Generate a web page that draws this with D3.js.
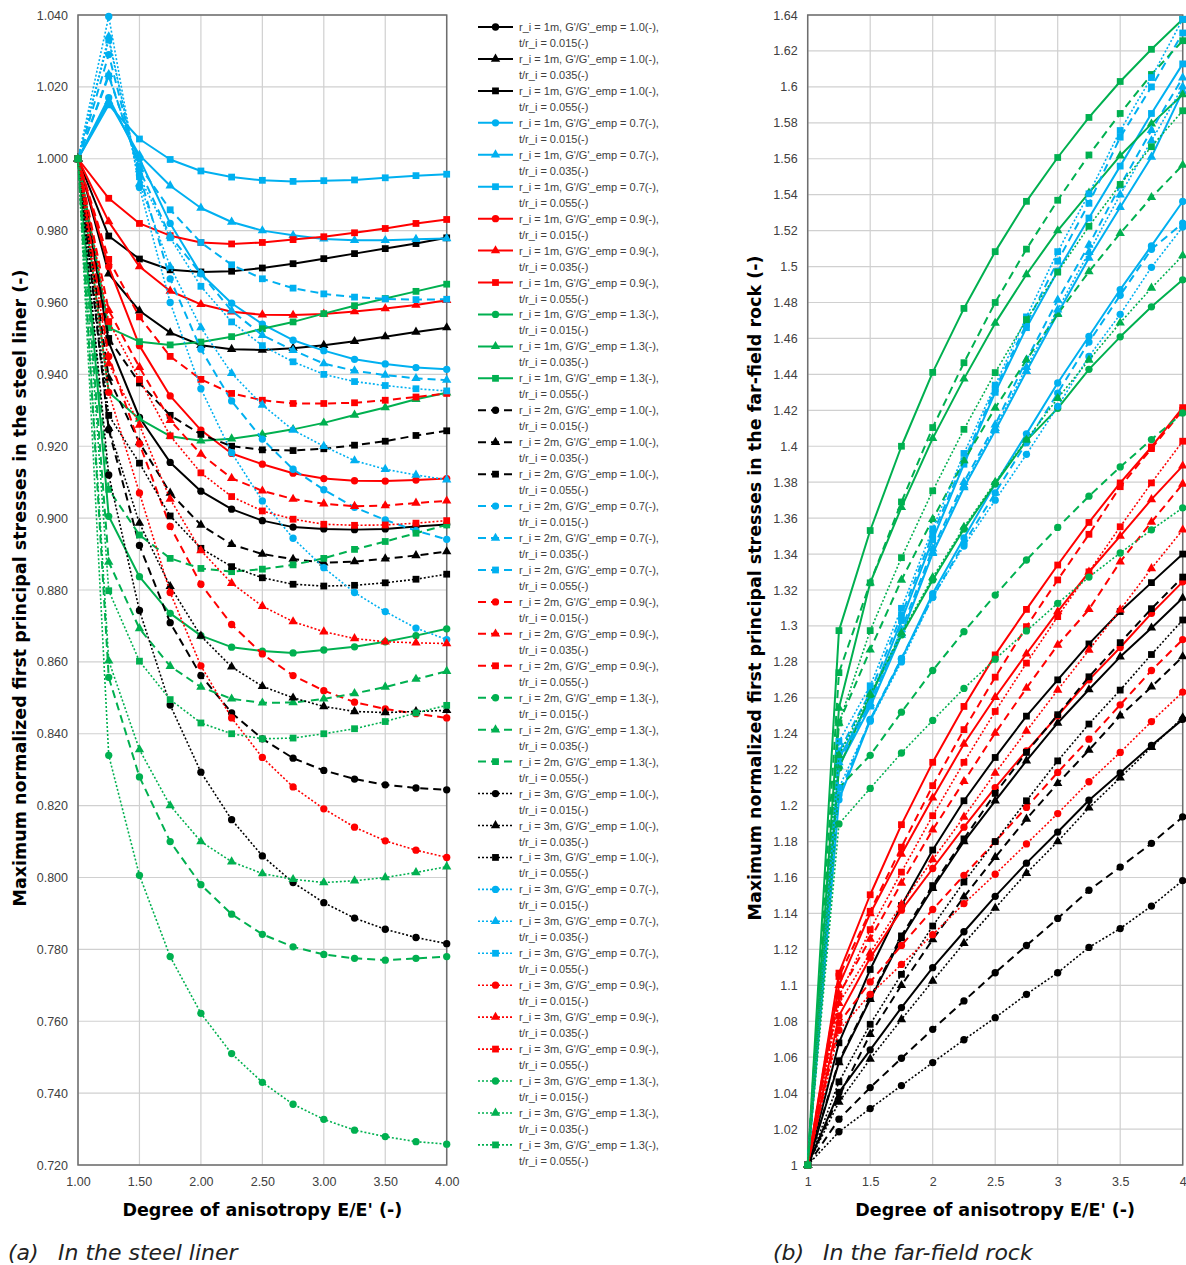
<!DOCTYPE html>
<html>
<head>
<meta charset="utf-8">
<script src="https://cdn.jsdelivr.net/npm/d3@7"></script>
<style>
body{margin:0;background:#fff;}
svg{display:block;}
</style>
</head>
<body>
<div id="chart"></div>
<script>
// degree of anisotropy E/E'
var xVals=[1,1.25,1.5,1.75,2,2.25,2.5,2.75,3,3.25,3.5,3.75,4];

// (a) steel liner
var L_1m_G10_t015=[1.000,0.949,0.928,0.9155,0.9075,0.9025,0.8993,0.8975,0.897,0.8968,0.897,0.8977,0.8982];
var L_1m_G10_t035=[1.000,0.968,0.9577,0.9516,0.9481,0.947,0.9468,0.9473,0.9481,0.9492,0.9505,0.9518,0.953];
var L_1m_G10_t055=[1.000,0.9785,0.9721,0.9691,0.9685,0.9687,0.9696,0.9708,0.9722,0.9736,0.975,0.9764,0.978];
var L_1m_G07_t015=[1.000,1.017,1.000,0.982,0.968,0.9598,0.954,0.9495,0.9466,0.9442,0.9429,0.9419,0.9414];
var L_1m_G07_t035=[1.000,1.016,1.001,0.9925,0.9863,0.9824,0.980,0.9787,0.9777,0.9773,0.9773,0.9776,0.9778];
var L_1m_G07_t055=[1.000,1.015,1.0055,0.9998,0.9966,0.9949,0.994,0.9937,0.9939,0.9941,0.9947,0.9953,0.9957];
var L_1m_G09_t015=[1.000,0.970,0.948,0.934,0.9245,0.918,0.915,0.9125,0.911,0.9104,0.9103,0.9106,0.911];
var L_1m_G09_t035=[1.000,0.9825,0.970,0.9632,0.9595,0.9574,0.9566,0.9565,0.9568,0.9575,0.9583,0.9593,0.9606];
var L_1m_G09_t055=[1.000,0.989,0.982,0.9786,0.9767,0.9763,0.9767,0.9775,0.9783,0.9794,0.9806,0.982,0.9831];
var L_1m_G13_t015=[1.000,0.9005,0.8837,0.8735,0.8673,0.8641,0.863,0.8625,0.8633,0.8642,0.8656,0.8673,0.8692];
var L_1m_G13_t035=[1.000,0.935,0.9276,0.9228,0.9215,0.9221,0.9233,0.9247,0.9265,0.9287,0.9308,0.9331,0.9349];
var L_1m_G13_t055=[1.000,0.953,0.9491,0.9482,0.949,0.9505,0.9527,0.9546,0.9569,0.9591,0.9611,0.9631,0.9651];
var L_2m_G10_t015=[1.000,0.9246,0.8924,0.8709,0.8562,0.8458,0.8386,0.8332,0.8298,0.8274,0.8258,0.8249,0.8244];
var L_2m_G10_t035=[1.000,0.939,0.921,0.907,0.8981,0.8927,0.890,0.8886,0.8876,0.8879,0.8887,0.8896,0.8907];
var L_2m_G10_t055=[1.000,0.950,0.9376,0.9286,0.9233,0.920,0.919,0.9188,0.9193,0.9203,0.9214,0.923,0.9243];
var L_2m_G07_t015=[1.000,1.029,0.9955,0.9666,0.947,0.9326,0.922,0.9136,0.9079,0.903,0.8995,0.8965,0.8941];
var L_2m_G07_t035=[1.000,1.0235,0.997,0.9785,0.968,0.9577,0.9509,0.9467,0.943,0.941,0.9398,0.9389,0.9384];
var L_2m_G07_t055=[1.000,1.023,0.998,0.9858,0.9767,0.9705,0.9666,0.964,0.9624,0.9615,0.961,0.9608,0.9609];
var L_2m_G09_t015=[1.000,0.945,0.9207,0.8977,0.8816,0.8704,0.8622,0.8562,0.852,0.8488,0.8469,0.8456,0.8444];
var L_2m_G09_t035=[1.000,0.9578,0.942,0.9272,0.9178,0.9111,0.9076,0.9053,0.904,0.9033,0.9035,0.9042,0.9048];
var L_2m_G09_t055=[1.000,0.972,0.956,0.945,0.9386,0.9347,0.9328,0.9319,0.9319,0.9321,0.9328,0.9337,0.9347];
var L_2m_G13_t015=[1.000,0.8557,0.828,0.810,0.798,0.7898,0.7842,0.7807,0.7786,0.7775,0.777,0.7775,0.778];
var L_2m_G13_t035=[1.000,0.8878,0.8693,0.8588,0.853,0.8497,0.8486,0.8487,0.8497,0.8512,0.853,0.8552,0.8574];
var L_2m_G13_t055=[1.000,0.908,0.8953,0.8888,0.886,0.8851,0.8858,0.887,0.8888,0.8913,0.8935,0.8958,0.8981];
var L_3m_G10_t015=[1.000,0.912,0.8743,0.848,0.8293,0.8161,0.806,0.7986,0.793,0.7887,0.7856,0.7833,0.7816];
var L_3m_G10_t035=[1.000,0.925,0.8986,0.881,0.8672,0.8586,0.8532,0.850,0.8476,0.8462,0.8459,0.8462,0.8465];
var L_3m_G10_t055=[1.000,0.9286,0.9153,0.9006,0.8916,0.8865,0.8834,0.8816,0.8811,0.8813,0.882,0.883,0.8844];
var L_3m_G07_t015=[1.000,1.0396,0.992,0.960,0.936,0.9182,0.9048,0.8944,0.8862,0.8793,0.874,0.8694,0.8662];
var L_3m_G07_t035=[1.000,1.034,0.993,0.970,0.953,0.9403,0.9315,0.9245,0.920,0.916,0.9136,0.912,0.9107];
var L_3m_G07_t055=[1.000,1.033,0.995,0.978,0.9645,0.9546,0.948,0.9435,0.940,0.938,0.9369,0.936,0.9354];
var L_3m_G09_t015=[1.000,0.935,0.907,0.8793,0.8589,0.8444,0.8334,0.8252,0.8191,0.814,0.8102,0.8076,0.8056];
var L_3m_G09_t035=[1.000,0.943,0.9259,0.9053,0.891,0.8819,0.8755,0.8712,0.8684,0.8665,0.8656,0.8653,0.8651];
var L_3m_G09_t055=[1.000,0.9547,0.9386,0.9229,0.9126,0.906,0.902,0.8997,0.8983,0.898,0.8981,0.8986,0.8993];
var L_3m_G13_t015=[1.000,0.834,0.8006,0.778,0.7622,0.751,0.743,0.7369,0.7327,0.7297,0.7279,0.7265,0.7258];
var L_3m_G13_t035=[1.000,0.8603,0.8356,0.820,0.810,0.8044,0.8011,0.7995,0.7986,0.7991,0.800,0.8014,0.803];
var L_3m_G13_t055=[1.000,0.8798,0.8602,0.8495,0.843,0.840,0.8386,0.8388,0.840,0.8414,0.8434,0.8458,0.8479];

// (b) far-field rock
var R_1m_G10_t015=[1,1.0404,1.0641,1.0876,1.1098,1.1298,1.1495,1.168,1.1853,1.203,1.2182,1.2335,1.248];
var R_1m_G10_t035=[1,1.057,1.0922,1.126,1.154,1.18,1.2027,1.225,1.246,1.2646,1.2828,1.2989,1.3155];
var R_1m_G10_t055=[1,1.068,1.1088,1.1444,1.1753,1.2027,1.2268,1.2498,1.27,1.29,1.308,1.3241,1.34];
var R_1m_G07_t015=[1,1.2033,1.2475,1.2815,1.318,1.349,1.379,1.4069,1.4352,1.4612,1.4872,1.5115,1.5362];
var R_1m_G07_t035=[1,1.222,1.255,1.295,1.3404,1.377,1.4087,1.4417,1.4739,1.5048,1.533,1.561,1.5976];
var R_1m_G07_t055=[1,1.226,1.259,1.303,1.348,1.39,1.43,1.466,1.4975,1.527,1.5559,1.5852,1.6128];
var R_1m_G09_t015=[1,1.083,1.1153,1.1418,1.165,1.188,1.21,1.2305,1.25,1.27,1.288,1.307,1.3245];
var R_1m_G09_t035=[1,1.10,1.14,1.173,1.2043,1.2343,1.2603,1.2845,1.308,1.33,1.35,1.3704,1.3891];
var R_1m_G09_t055=[1,1.1068,1.1504,1.1894,1.2241,1.2552,1.2839,1.3092,1.3339,1.3576,1.3796,1.3996,1.4215];
var R_1m_G13_t015=[1,1.221,1.2611,1.295,1.3256,1.3539,1.3791,1.4031,1.4211,1.4428,1.4609,1.4776,1.4926];
var R_1m_G13_t035=[1,1.2543,1.324,1.366,1.4044,1.4375,1.4685,1.4956,1.52,1.541,1.5617,1.5794,1.5957];
var R_1m_G13_t055=[1,1.2974,1.3531,1.400,1.4411,1.4767,1.5083,1.5363,1.5607,1.583,1.603,1.6209,1.6376];
var R_2m_G10_t015=[1,1.0255,1.0431,1.0594,1.0755,1.0913,1.107,1.1222,1.1372,1.1529,1.1658,1.179,1.1937];
var R_2m_G10_t035=[1,1.038,1.0728,1.10,1.1255,1.1492,1.1713,1.1926,1.2124,1.2309,1.25,1.2661,1.2829];
var R_2m_G10_t055=[1,1.058,1.093,1.1275,1.1555,1.1815,1.2068,1.2296,1.2506,1.2717,1.2907,1.3096,1.3272];
var R_2m_G07_t015=[1,1.206,1.248,1.282,1.316,1.346,1.374,1.402,1.4296,1.458,1.484,1.5096,1.5241];
var R_2m_G07_t035=[1,1.224,1.257,1.298,1.343,1.38,1.412,1.448,1.4814,1.512,1.545,1.5759,1.6051];
var R_2m_G07_t055=[1,1.23,1.263,1.306,1.351,1.392,1.432,1.468,1.503,1.5352,1.572,1.60,1.63];
var R_2m_G09_t015=[1,1.079,1.1019,1.1222,1.1422,1.1612,1.18,1.199,1.2185,1.237,1.2561,1.2752,1.2924];
var R_2m_G09_t035=[1,1.095,1.1258,1.1569,1.1866,1.2135,1.2404,1.2654,1.2894,1.3092,1.3357,1.3578,1.379];
var R_2m_G09_t055=[1,1.1049,1.1412,1.1769,1.2111,1.2423,1.2715,1.2996,1.3256,1.351,1.3775,1.3987,1.42];
var R_2m_G13_t015=[1,1.21,1.228,1.252,1.2752,1.2968,1.3172,1.3367,1.3548,1.3722,1.3885,1.4037,1.4185];
var R_2m_G13_t035=[1,1.246,1.2867,1.3256,1.3594,1.392,1.4213,1.448,1.4735,1.4972,1.5185,1.5385,1.5565];
var R_2m_G13_t055=[1,1.274,1.324,1.369,1.4104,1.4465,1.48,1.5097,1.5369,1.5621,1.5852,1.6069,1.6257];
var R_3m_G10_t015=[1,1.0185,1.0314,1.0442,1.057,1.0697,1.082,1.095,1.107,1.1211,1.1316,1.1441,1.1583];
var R_3m_G10_t035=[1,1.035,1.059,1.081,1.1024,1.1234,1.143,1.1624,1.18,1.1988,1.2155,1.2325,1.249];
var R_3m_G10_t055=[1,1.0463,1.0783,1.1061,1.133,1.1575,1.18,1.2027,1.2249,1.2454,1.2643,1.2841,1.3033];
var R_3m_G07_t015=[1,1.21,1.247,1.28,1.316,1.3445,1.370,1.3955,1.4222,1.45,1.4734,1.4996,1.522];
var R_3m_G07_t035=[1,1.23,1.256,1.296,1.341,1.378,1.41,1.444,1.476,1.508,1.540,1.570,1.600];
var R_3m_G07_t055=[1,1.2357,1.2667,1.3098,1.354,1.396,1.434,1.472,1.5083,1.5405,1.5757,1.6052,1.6376];
var R_3m_G09_t015=[1,1.075,1.095,1.1116,1.1282,1.1455,1.1618,1.1787,1.1956,1.2133,1.2296,1.2468,1.2632];
var R_3m_G09_t035=[1,1.09,1.118,1.145,1.17,1.1937,1.2181,1.2415,1.2643,1.2866,1.309,1.332,1.3535];
var R_3m_G09_t055=[1,1.0939,1.131,1.163,1.1944,1.2241,1.2524,1.2793,1.3052,1.3301,1.3552,1.3796,1.4028];
var R_3m_G13_t015=[1,1.1898,1.2096,1.2293,1.2474,1.2652,1.2815,1.2972,1.3126,1.3272,1.3406,1.3535,1.3657];
var R_3m_G13_t035=[1,1.228,1.262,1.296,1.327,1.355,1.380,1.4035,1.4267,1.448,1.4687,1.4881,1.5061];
var R_3m_G13_t055=[1,1.246,1.2974,1.338,1.3752,1.4094,1.441,1.4705,1.4969,1.5224,1.5457,1.5667,1.5867];

// series keys / legend order
var radii=["1m","2m","3m"];
var gRatios=["1.0","0.7","0.9","1.3"];
var tRatios=["0.015","0.035","0.055"];
var linerTicks=[0.72,0.74,0.76,0.78,0.80,0.82,0.84,0.86,0.88,0.90,0.92,0.94,0.96,0.98,1.00,1.02,1.04];
var rockTicks=d3.range(0,33).map(function(i){return +(1+i*0.02).toFixed(2);});
var xTicks=[1,1.5,2,2.5,3,3.5,4];

var colors={"1.0":"#000000","0.7":"#00b0f0","0.9":"#ff0000","1.3":"#00b050"};
var shapes={"0.015":d3.symbolCircle,"0.035":d3.symbolTriangle,"0.055":d3.symbolSquare};
var symSize={"0.015":42,"0.035":38,"0.055":46};
var dashes={"1m":null,"2m":"8,5","3m":"2,2"};
var widths={"1m":2,"2m":2,"3m":1.6};

var linerSet={},rockSet={};
var gCode={"1.0":"G10","0.7":"G07","0.9":"G09","1.3":"G13"};
var tCode={"0.015":"t015","0.035":"t035","0.055":"t055"};
var series=[];
radii.forEach(function(r){gRatios.forEach(function(g){tRatios.forEach(function(t){
    var k=r+"_"+gCode[g]+"_"+tCode[t];
    linerSet[k]=window["L_"+k];
    rockSet[k]=window["R_"+k];
    series.push({r:r,g:g,t:t,key:k});
});});});

var W=1186,H=1265;
var svg=d3.select("#chart").append("svg").attr("width",W).attr("height",H);
var plotTop=15,plotBottom=1165;

function drawPanel(cfg){
    var x=d3.scaleLinear().domain([1,4]).range([cfg.left,cfg.right]);
    var y=d3.scaleLinear().domain([cfg.ymin,cfg.ymax]).range([plotBottom,plotTop]);
    var g=svg.append("g");
    //网格线
    g.append("g").selectAll("line").data(cfg.yTicks).enter().append("line")
        .attr("x1",cfg.left).attr("x2",cfg.right)
        .attr("y1",function(d){return y(d);}).attr("y2",function(d){return y(d);})
        .attr("stroke","#d0d0d0").attr("stroke-width",1.2);
    g.append("g").selectAll("line").data(xTicks).enter().append("line")
        .attr("y1",plotTop).attr("y2",plotBottom)
        .attr("x1",function(d){return x(d);}).attr("x2",function(d){return x(d);})
        .attr("stroke","#d0d0d0").attr("stroke-width",1.2);
    //边框
    g.append("rect").attr("x",cfg.left).attr("y",plotTop)
        .attr("width",cfg.right-cfg.left).attr("height",plotBottom-plotTop)
        .attr("fill","none").attr("stroke","#6e6e6e").attr("stroke-width",1.5);
    //坐标轴
    var gy=g.append("g").attr("transform","translate("+cfg.left+",0)");
    d3.axisLeft(y).tickValues(cfg.yTicks).tickSize(0).tickPadding(10).tickFormat(cfg.yFmt)(gy);
    var gx=g.append("g").attr("transform","translate(0,"+plotBottom+")");
    d3.axisBottom(x).tickValues(xTicks).tickSize(0).tickPadding(12).tickFormat(cfg.xFmt)(gx);
    g.selectAll(".domain").remove();
    g.selectAll(".tick text").attr("fill","#404040")
        .style("font-family","'Liberation Sans',Arial,sans-serif").style("font-size","12.5px");

    //折线
    var line=d3.line()
        .x(function(d){return x(d[0]);})
        .y(function(d){return y(d[1]);});
    series.forEach(function(s){
        var pts=d3.zip(xVals,cfg.data[s.key]);
        var sg=g.append("g");
        sg.append("path").attr("d",line(pts))
            .attr("fill","none").attr("stroke",colors[s.g])
            .attr("stroke-width",widths[s.r])
            .attr("stroke-linejoin","round")
            .attr("stroke-dasharray",dashes[s.r]);
        sg.selectAll("path.mk").data(pts).enter().append("path")
            .attr("class","mk")
            .attr("d",d3.symbol().type(shapes[s.t]).size(symSize[s.t]))
            .attr("transform",function(d){return "translate("+x(d[0])+","+y(d[1])+")";})
            .attr("fill",colors[s.g]);
    });

    //标题
    svg.append("text")
        .attr("transform","translate("+cfg.ytx+",588) rotate(-90)")
        .attr("text-anchor","middle")
        .style("font-family","'DejaVu Sans',Verdana,sans-serif")
        .style("font-weight","bold").style("font-size","17.5px")
        .text(cfg.yTitle);
    svg.append("text")
        .attr("x",(cfg.left+cfg.right)/2).attr("y",1216)
        .attr("text-anchor","middle")
        .style("font-family","'DejaVu Sans',Verdana,sans-serif")
        .style("font-weight","bold").style("font-size","17.5px")
        .text("Degree of anisotropy E/E' (-)");
    var cap=svg.append("g").attr("fill","#222")
        .style("font-family","'DejaVu Sans',Verdana,sans-serif")
        .style("font-style","oblique").style("font-size","22px");
    cap.append("text").attr("x",cfg.capX).attr("y",1260).text(cfg.capTag);
    cap.append("text").attr("x",cfg.capX+50).attr("y",1260).text(cfg.caption);
}

drawPanel({left:78,right:446.7,ymin:0.72,ymax:1.04,yTicks:linerTicks,
    yFmt:d3.format(".3f"),xFmt:d3.format(".2f"),data:linerSet,ytx:26,
    yTitle:"Maximum normalized first principal stresses in the steel liner (-)",
    capX:8,capTag:"(a)",caption:"In the steel liner"});
drawPanel({left:807.7,right:1182.7,ymin:1,ymax:1.64,yTicks:rockTicks,
    yFmt:function(d){return String(+d.toFixed(2));},xFmt:function(d){return String(d);},data:rockSet,ytx:761,
    yTitle:"Maximum normalized first principal stresses in the far-field rock (-)",
    capX:773,capTag:"(b)",caption:"In the far-field rock"});

//图例
var leg=svg.append("g").attr("transform","translate(478,27)");
var item=leg.selectAll("g").data(series).enter().append("g")
    .attr("transform",function(d,i){return "translate(0,"+(i*31.94)+")";});
item.append("line").attr("x1",0).attr("x2",35).attr("y1",0).attr("y2",0)
    .attr("stroke",function(d){return colors[d.g];})
    .attr("stroke-width",function(d){return widths[d.r];})
    .attr("stroke-dasharray",function(d){return dashes[d.r];});
item.append("path")
    .attr("d",function(d){return d3.symbol().type(shapes[d.t]).size(symSize[d.t])();})
    .attr("transform","translate(17.5,0)")
    .attr("fill",function(d){return colors[d.g];});
var lt=item.append("text").attr("x",41).attr("y",4)
    .style("font-family","'Liberation Sans',Arial,sans-serif").style("font-size","11px")
    .attr("fill","#404040");
lt.append("tspan").attr("x",41).attr("dy",0)
    .text(function(d){return "r_i = "+d.r+", G'/G'_emp = "+d.g+"(-),";});
lt.append("tspan").attr("x",41).attr("dy",16)
    .text(function(d){return "t/r_i = "+d.t+"(-)";});
</script>
</body>
</html>
